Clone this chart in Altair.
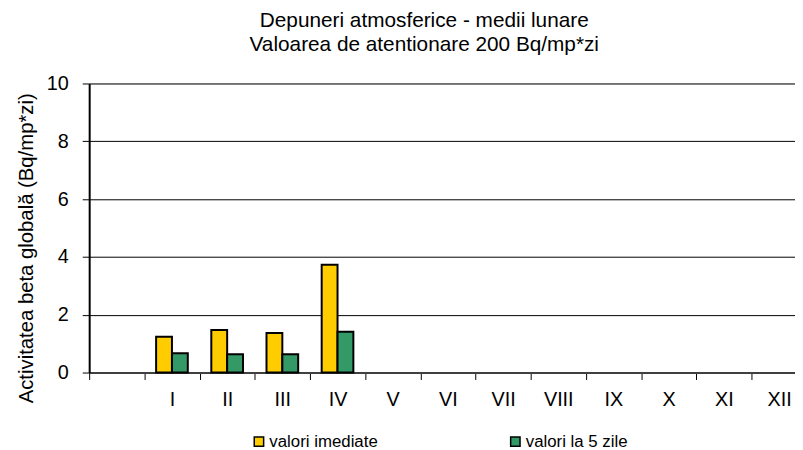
import altair as alt
import pandas as pd

months = ["I", "II", "III", "IV"]
imediate = [1.24, 1.47, 1.37, 3.73]
la5zile = [0.67, 0.63, 0.63, 1.41]
domain_x = [" ", "I", "II", "III", "IV", "V", "VI", "VII", "VIII", "IX", "X", "XI", "XII"]
series = ["valori imediate", "valori la 5 zile"]
colors = ["#FFCC00", "#339966"]
y_ticks = [0, 2, 4, 6, 8, 10]

rows = []
for m, a, b in zip(months, imediate, la5zile):
    rows.append({"luna": m, "serie": series[0], "val": a})
    rows.append({"luna": m, "serie": series[1], "val": b})
df = pd.DataFrame(rows)

FONT = "Liberation Sans"

chart = alt.Chart(df).mark_bar(stroke="black", strokeWidth=2).encode(
    x=alt.X(
        "luna:N",
        sort=domain_x,
        scale=alt.Scale(domain=domain_x, paddingInner=0, paddingOuter=0, range=[0, 724.75]),
        axis=alt.Axis(
            title=None, labelAngle=0, tickBand="extent", tickSize=7, labelPadding=10,
            labelFontSize=20, labelFont=FONT, labelColor="black", tickColor="black",
            domainColor="#404040", domainWidth=2, grid=False,
        ),
    ),
    xOffset=alt.XOffset("serie:N", scale=alt.Scale(domain=series, paddingOuter=0.742, paddingInner=0)),
    y=alt.Y(
        "val:Q",
        scale=alt.Scale(domain=[0, 10]),
        axis=alt.Axis(
            values=y_ticks, title="Activitatea beta globală (Bq/mp*zi)",
            labelFontSize=20, labelFont=FONT, labelColor="black", labelPadding=14,
            tickSize=7, tickColor="black", domainColor="black", domainWidth=2,
            grid=True, gridColor="black", gridWidth=1,
            titleFont=FONT, titleFontSize=20.5, titleFontWeight="normal", titleColor="black",
            titleX=-63, titleY=166, titleBaseline="middle", titleAlign="center",
        ),
    ),
    color=alt.Color(
        "serie:N",
        scale=alt.Scale(domain=series, range=colors),
        legend=alt.Legend(
            title=None, orient="none", legendX=163, legendY=353, direction="horizontal",
            labelFontSize=17, labelFont=FONT, labelColor="black", labelOffset=2,
            symbolType="square", symbolSize=90, symbolStrokeColor="black",
            symbolStrokeWidth=1.5, columnPadding=130, padding=0,
        ),
    ),
).properties(
    width=713,
    height=292,
    title=alt.Title(
        ["Depuneri atmosferice - medii lunare", "Valoarea de atentionare 200 Bq/mp*zi"],
        font=FONT, fontSize=21, fontWeight="normal", color="black",
        anchor="middle", frame="group", dx=-18, offset=19, lineHeight=24,
    ),
    autosize=alt.AutoSizeParams(type="none"),
    padding={"left": 82, "top": 74, "right": 0, "bottom": 76},
).configure_view(stroke=None).configure(background="white")

chart.save("out.html", embed_options={"renderer": "svg", "actions": False})
